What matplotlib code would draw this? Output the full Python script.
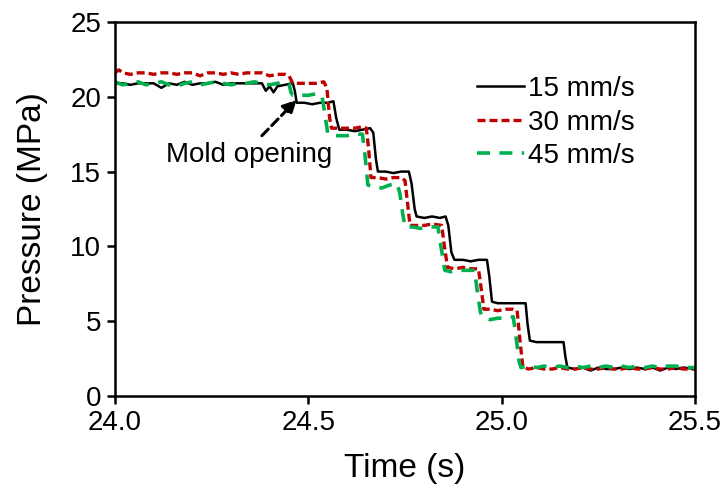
import matplotlib
matplotlib.use("Agg")
import matplotlib.pyplot as plt

plt.rcParams["font.family"] = ["Liberation Sans", "DejaVu Sans"]

# --- data ------------------------------------------------------------------
t_15 = [24.00, 24.02, 24.04, 24.06, 24.08, 24.10, 24.12, 24.14, 24.16, 24.18,
        24.20, 24.22, 24.24, 24.26, 24.28, 24.30, 24.32, 24.34, 24.36, 24.38,
        24.39, 24.40, 24.41, 24.42, 24.44, 24.46, 24.465, 24.47, 24.49, 24.51,
        24.53, 24.55, 24.565, 24.572, 24.58, 24.60, 24.62, 24.64, 24.66, 24.668,
        24.675, 24.68, 24.70, 24.72, 24.74, 24.76, 24.767, 24.775, 24.78, 24.80,
        24.82, 24.84, 24.855, 24.862, 24.87, 24.878, 24.90, 24.92, 24.94, 24.962,
        24.968, 24.975, 24.99, 25.01, 25.03, 25.05, 25.062, 25.067, 25.073, 25.09,
        25.11, 25.13, 25.15, 25.16, 25.165, 25.17, 25.19, 25.21, 25.23, 25.25,
        25.27, 25.29, 25.31, 25.33, 25.35, 25.37, 25.39, 25.41, 25.43, 25.45,
        25.47, 25.50]
p_15 = [20.9, 20.9, 20.8, 20.9, 20.9, 20.9, 20.6, 20.9, 20.8, 21.0,
        20.8, 20.9, 20.9, 21.0, 20.8, 20.9, 20.9, 20.9, 20.9, 20.9,
        20.4, 20.7, 20.3, 20.7, 20.8, 20.9, 20.4, 19.6, 19.6, 19.5,
        19.6, 19.6, 19.7, 18.6, 17.8, 17.8, 17.7, 17.8, 17.9, 17.6,
        15.8, 15.0, 15.0, 14.9, 15.0, 15.0, 14.2, 12.5, 12.0, 11.9,
        12.0, 11.9, 12.0, 11.4, 9.6, 9.1, 9.1, 9.0, 9.1, 9.1,
        8.0, 6.3, 6.2, 6.2, 6.2, 6.2, 6.2, 4.8, 3.7, 3.6,
        3.6, 3.6, 3.6, 3.6, 2.6, 1.9, 1.8, 1.9, 1.7, 1.9,
        1.8, 1.8, 1.9, 1.8, 1.9, 1.8, 1.9, 1.7, 1.9, 1.8,
        1.9, 1.8]

t_30 = [24.00, 24.01, 24.02, 24.04, 24.06, 24.08, 24.10, 24.12, 24.14, 24.16,
        24.18, 24.20, 24.22, 24.24, 24.26, 24.28, 24.30, 24.32, 24.34, 24.36,
        24.38, 24.40, 24.42, 24.44, 24.45, 24.458, 24.46, 24.48, 24.50, 24.52,
        24.54, 24.548, 24.555, 24.56, 24.58, 24.60, 24.62, 24.64, 24.65, 24.656,
        24.662, 24.68, 24.70, 24.72, 24.74, 24.75, 24.757, 24.763, 24.78, 24.80,
        24.82, 24.845, 24.852, 24.86, 24.88, 24.90, 24.92, 24.94, 24.947, 24.954,
        24.97, 24.99, 25.01, 25.03, 25.04, 25.047, 25.055, 25.07, 25.09, 25.11,
        25.13, 25.15, 25.17, 25.19, 25.21, 25.23, 25.25, 25.27, 25.29, 25.31,
        25.33, 25.35, 25.37, 25.39, 25.41, 25.43, 25.45, 25.47, 25.50]
p_30 = [21.6, 21.8, 21.6, 21.5, 21.6, 21.6, 21.5, 21.6, 21.6, 21.5,
        21.6, 21.6, 21.4, 21.6, 21.6, 21.5, 21.6, 21.5, 21.6, 21.6,
        21.6, 21.4, 21.5, 21.5, 21.4, 21.0, 20.9, 20.9, 20.9, 20.9,
        21.0, 20.6, 18.6, 17.9, 17.9, 17.9, 17.9, 18.0, 17.9, 16.5,
        14.6, 14.6, 14.5, 14.6, 14.6, 14.4, 12.8, 11.4, 11.4, 11.4,
        11.5, 11.4, 10.0, 8.6, 8.5, 8.6, 8.5, 8.5, 7.2, 5.8,
        5.8, 5.7, 5.8, 5.8, 5.7, 3.8, 1.9, 1.8, 1.9, 1.8,
        1.8, 1.9, 1.8, 1.8, 1.9, 1.8, 1.8, 1.9, 1.8, 1.8,
        1.9, 1.8, 1.8, 1.9, 1.8, 1.8, 1.9, 1.8, 1.8]

t_45 = [24.00, 24.02, 24.04, 24.06, 24.08, 24.10, 24.12, 24.14, 24.16, 24.18,
        24.20, 24.22, 24.24, 24.26, 24.28, 24.30, 24.32, 24.34, 24.36, 24.38,
        24.40, 24.42, 24.44, 24.45, 24.455, 24.46, 24.48, 24.50, 24.52, 24.535,
        24.542, 24.55, 24.56, 24.58, 24.60, 24.62, 24.64, 24.647, 24.654, 24.67,
        24.69, 24.71, 24.73, 24.737, 24.744, 24.75, 24.77, 24.79, 24.81, 24.835,
        24.843, 24.853, 24.87, 24.89, 24.91, 24.93, 24.937, 24.945, 24.95, 24.97,
        24.99, 25.01, 25.03, 25.037, 25.045, 25.05, 25.07, 25.09, 25.11, 25.13,
        25.15, 25.17, 25.19, 25.21, 25.23, 25.25, 25.27, 25.29, 25.31, 25.33,
        25.35, 25.37, 25.39, 25.41, 25.43, 25.45, 25.47, 25.50]
p_45 = [21.0, 20.8, 20.9, 21.0, 20.8, 20.9, 21.0, 20.8, 20.7, 20.9,
        21.0, 20.8, 20.9, 21.0, 20.9, 20.8, 20.9, 20.9, 21.0, 20.9,
        20.8, 20.9, 21.0, 20.9, 20.3, 20.1, 20.1, 20.1, 20.2, 20.1,
        19.0, 17.6, 17.4, 17.4, 17.4, 17.5, 17.5, 16.0, 14.1, 14.0,
        13.9, 14.1, 14.2, 13.5, 12.2, 11.3, 11.3, 11.2, 11.3, 11.3,
        10.0, 8.4, 8.3, 8.4, 8.4, 8.4, 7.0, 5.6, 5.3, 5.1,
        5.2, 5.2, 5.3, 4.0, 2.3, 1.9, 2.0, 1.9, 2.0, 1.9,
        2.0, 1.9, 2.0, 1.9, 2.0, 1.9, 2.0, 1.9, 2.0, 1.9,
        2.0, 1.9, 2.0, 1.9, 2.0, 2.0, 1.9, 1.9]

X_TICKS = [24.0, 24.5, 25.0, 25.5]
Y_TICKS = [0, 5, 10, 15, 20, 25]

FS = 20


def main():
    fig = plt.figure(figsize=(7.25, 4.93), dpi=100)
    ax = fig.add_axes([0.1586, 0.1968, 0.80, 0.7586])

    ax.plot(t_15, p_15, color="black", lw=1.8, label="15 mm/s")
    ax.plot(t_30, p_30, color="#C00000", lw=2.4, ls=(0, (2.4, 1.2)),
            label="30 mm/s")
    ax.plot(t_45, p_45, color="#00B050", lw=2.6, ls=(0, (3.6, 2.6)),
            label="45 mm/s")

    ax.annotate("", xy=(24.47, 19.8), xytext=(24.38, 17.4),
                arrowprops=dict(arrowstyle="-|>", color="black", lw=2.2,
                                ls=(0, (3, 1.6)), mutation_scale=20,
                                shrinkA=0, shrinkB=0))
    ax.text(24.346, 16.1, "Mold opening", ha="center", va="center",
            fontsize=FS)

    ax.set_xlim(24.0, 25.5)
    ax.set_ylim(0, 25)
    ax.set_xticks(X_TICKS)
    ax.set_xticklabels([f"{v:.1f}" for v in X_TICKS])
    ax.set_yticks(Y_TICKS)
    ax.tick_params(direction="out", length=6, width=1.8, labelsize=FS, pad=4)
    for s in ax.spines.values():
        s.set_linewidth(1.8)

    ax.set_xlabel("Time (s)", fontsize=24, labelpad=12)
    ax.set_ylabel("Pressure (MPa)", fontsize=24, labelpad=16)

    ax.legend(loc="upper left", bbox_to_anchor=(0.605, 0.885), frameon=False,
              fontsize=FS, handlelength=1.7, handletextpad=0.15,
              labelspacing=0.27, borderaxespad=0)

    fig.savefig("out.png", dpi=100)


if __name__ == "__main__":
    main()
